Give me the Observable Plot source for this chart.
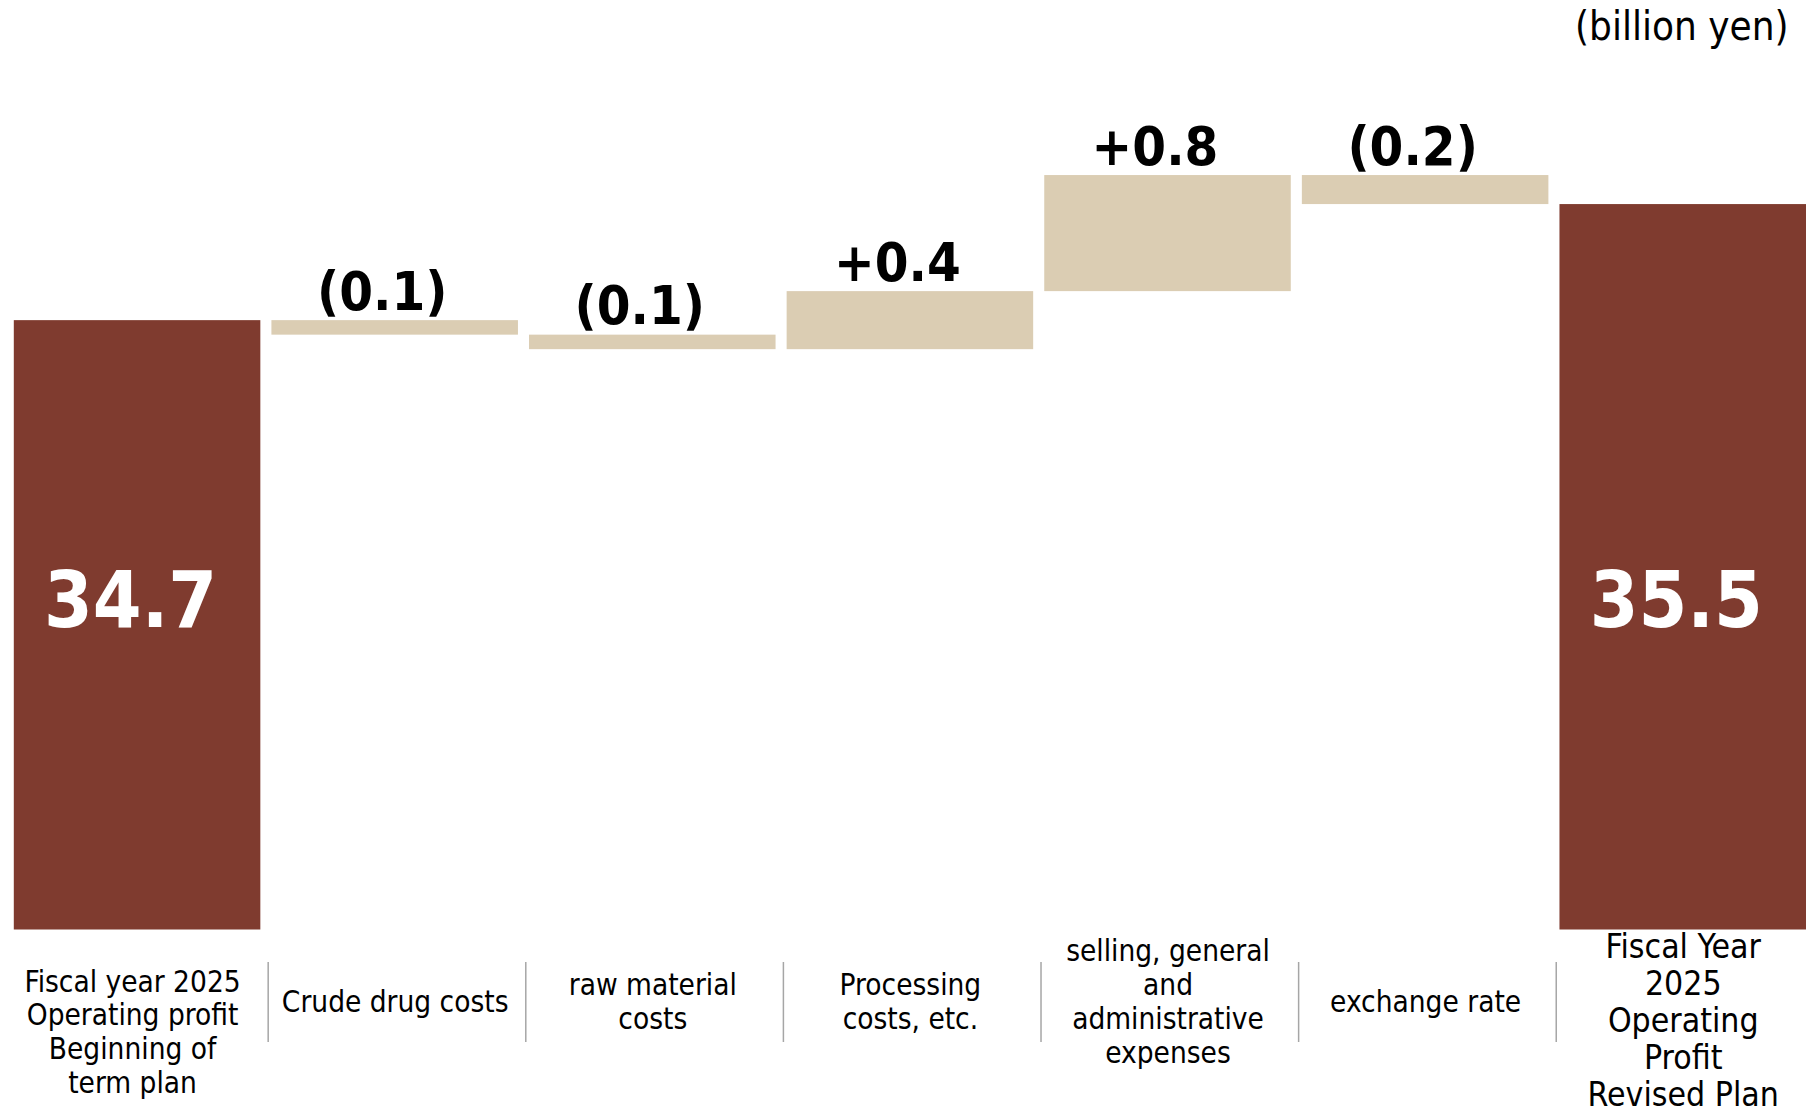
<!DOCTYPE html>
<html><head><meta charset="utf-8">
<script src="https://cdn.jsdelivr.net/npm/d3@7"></script>
<script src="https://cdn.jsdelivr.net/npm/@observablehq/plot@0.6"></script>
<style>body{margin:0;background:#fff} svg{display:block}</style>
</head><body><div id="chart"></div>
<script>
// ---- data ----
const categories = [
  "Fiscal year 2025\nOperating profit\nBeginning of\nterm plan",
  "Crude drug costs",
  "raw material\ncosts",
  "Processing\ncosts, etc.",
  "selling, general\nand\nadministrative\nexpenses",
  "exchange rate",
  "Fiscal Year\n2025\nOperating\nProfit\nRevised Plan"
];
const kinds = ["total", "delta", "delta", "delta", "delta", "delta", "total"];
const values = [34.7, -0.1, -0.1, 0.4, 0.8, -0.2, 35.5];
const unitLabel = "(billion yen)";
const axisFloor = 30.5;   // broken value axis starts here
const axisTop = 36.3;

// ---- waterfall rows ----
let level = 0;
const rows = categories.map((c, i) => {
  if (kinds[i] === "total") {
    level = values[i];
    return {cat: c, kind: "total", i, y1: axisFloor, y2: values[i], value: values[i]};
  }
  const start = level;
  level = Math.round((level + values[i]) * 100) / 100;
  return {cat: c, kind: "delta", i, y1: start, y2: level, value: values[i]};
});
const totals = rows.filter(d => d.kind === "total");
const deltas = rows.filter(d => d.kind === "delta");
const fmtDelta = v => v < 0 ? `(${Math.abs(v).toFixed(1)})` : `+${v.toFixed(1)}`;

const dark = "#7f3b2f", beige = "#dbcdb3";
const font = "'DejaVu Sans Condensed', 'DejaVu Sans', sans-serif";

const chart = Plot.plot({
  width: 1806,
  height: 1117,
  marginTop: 88,
  marginBottom: 187.5,
  marginLeft: 0,
  marginRight: 0,
  style: {fontFamily: font, fontStretch: "condensed", background: "#fff", overflow: "visible"},
  x: {domain: categories, range: [13.8, 1806], paddingInner: 0.043, paddingOuter: 0, round: false, axis: null},
  y: {domain: [axisFloor, axisTop], axis: null},
  marks: [
    Plot.barY(totals, {x: "cat", y1: "y1", y2: "y2", fill: dark}),
    Plot.barY(deltas, {x: "cat", y1: "y1", y2: "y2", fill: beige}),
    Plot.text(totals, {x: "cat", text: d => d.value.toFixed(1), frameAnchor: "bottom", lineAnchor: "middle",
      dy: -327.5, dx: -7, fill: "white", fontSize: 78, fontWeight: "bold"}),
    Plot.text(deltas, {x: "cat", y: d => Math.max(d.y1, d.y2), text: d => fmtDelta(d.value),
      lineAnchor: "bottom", dy: -11, dx: -13, fill: "black", fontSize: 54, fontWeight: "bold"}),
    // separators between category labels
    Plot.ruleX(categories.slice(1), {x: d => d, dx: -127, dy: 112.5, insetTop: 761.5, stroke: "#a6a6a6", strokeWidth: 1.5}),
    // category labels
    Plot.text([categories[0]], {x: d => d, text: d => d, frameAnchor: "bottom", lineAnchor: "middle",
      dy: 101.5, dx: -5, fontSize: 29.5, lineHeight: 1.14, fill: "black"}),
    Plot.text(categories.slice(1, 6), {x: d => d, text: d => d, frameAnchor: "bottom", lineAnchor: "middle",
      dy: 71.5, fontSize: 29.5, lineHeight: 1.15, fill: "black"}),
    Plot.text([categories[6]], {x: d => d, text: d => d, frameAnchor: "bottom", lineAnchor: "middle",
      dy: 90, fontSize: 33.5, lineHeight: 1.11, fill: "black"}),
    // unit label
    Plot.text([unitLabel], {frameAnchor: "top-right", textAnchor: "end", lineAnchor: "bottom",
      dy: -49, dx: -18, fontSize: 40, fill: "black"})
  ]
});
document.getElementById("chart").appendChild(chart);
</script>
</body></html>
